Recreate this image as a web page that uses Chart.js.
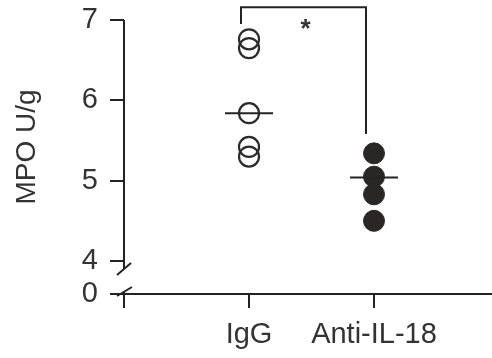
<!DOCTYPE html>
<html>
<head>
<meta charset="utf-8">
<script src="https://cdn.jsdelivr.net/npm/chart.js@4"></script>
<style>
  html, body { margin: 0; padding: 0; background: #fff; }
  #wrap { width: 492px; height: 358px; position: relative; }
</style>
</head>
<body>
<div id="wrap"><canvas id="c"></canvas></div>
<script>
// Groups and MPO activity (U/g) per animal
const groups = ['IgG', 'Anti-IL-18'];
const iggValues = [6.76, 6.65, 5.84, 5.42, 5.30];
const antiValues = [5.34, 5.05, 4.83, 4.50];
const medians = [5.84, 5.04];
const yTickValues = [0, 4, 5, 6, 7];

// Significance bracket between the two groups
const significance = '*';
const bracketTop = 7.16;
const bracketEnds = [6.95, 5.58];

// The y axis is broken between 0 and 4; 0 is drawn just below the break
const BREAK_POS = 3.589;
const toAxis = v => (v < 4 ? BREAK_POS : v);

const FONT = "'Liberation Sans', Arial, Helvetica, sans-serif";
const INK = '#232323';
const TEXT = '#333333';

const brokenAxisPlugin = {
  id: 'brokenAxis',
  afterDraw(chart) {
    const { ctx, chartArea } = chart;
    const ys = chart.scales.y;
    const xs = chart.scales.x;
    const ax = chartArea.left;
    const pTop = ys.getPixelForValue(7);
    const p4 = ys.getPixelForValue(4);
    const p0 = ys.getPixelForValue(toAxis(0));
    const upperCut = p4 + 8;
    const lowerCut = p0 - 3;

    ctx.save();
    ctx.strokeStyle = INK;
    ctx.lineWidth = 2;
    ctx.lineCap = 'butt';
    const line = (x1, y1, x2, y2) => {
      ctx.beginPath(); ctx.moveTo(x1, y1); ctx.lineTo(x2, y2); ctx.stroke();
    };
    // axis segments above and below the break
    line(ax, pTop, ax, upperCut);
    line(ax, lowerCut, ax, p0);
    // break marks
    line(ax - 7, upperCut + 6, ax + 7, upperCut - 6);
    line(ax - 7, lowerCut + 5, ax + 8, lowerCut - 4);

    // significance bracket
    const shift = -8;
    const xl = xs.getPixelForValue(1) + shift;
    const xr = xs.getPixelForValue(2) + shift;
    const yt = ys.getPixelForValue(bracketTop);
    ctx.beginPath();
    ctx.moveTo(xl, ys.getPixelForValue(bracketEnds[0]));
    ctx.lineTo(xl, yt);
    ctx.lineTo(xr, yt);
    ctx.lineTo(xr, ys.getPixelForValue(bracketEnds[1]));
    ctx.stroke();

    ctx.fillStyle = TEXT;
    ctx.font = 'bold 26px ' + FONT;
    ctx.textAlign = 'center';
    ctx.textBaseline = 'alphabetic';
    ctx.fillText(significance, (xl + xr) / 2 + 2, yt + 30);
    ctx.restore();
  }
};

const chart = new Chart(document.getElementById('c'), {
  type: 'scatter',
  data: {
    datasets: [
      {
        label: 'median',
        data: medians.map((v, i) => ({ x: i + 1, y: v })),
        pointStyle: 'line',
        pointRadius: 24,
        pointBorderWidth: 2,
        borderColor: INK,
        backgroundColor: INK
      },
      {
        label: groups[0],
        data: iggValues.map(v => ({ x: 1, y: v })),
        pointStyle: 'circle',
        pointRadius: 10,
        pointBorderWidth: 2.2,
        borderColor: '#2b2b2b',
        backgroundColor: 'rgba(255,255,255,0)'
      },
      {
        label: groups[1],
        data: antiValues.map(v => ({ x: 2, y: v })),
        pointStyle: 'circle',
        pointRadius: 10.5,
        pointBorderWidth: 1,
        borderColor: '#2a2626',
        backgroundColor: '#2a2626'
      }
    ]
  },
  options: {
    responsive: true,
    maintainAspectRatio: false,
    animation: false,
    events: [],
    layout: { padding: 0, autoPadding: false },
    plugins: { legend: { display: false }, tooltip: { enabled: false } },
    scales: {
      x: {
        type: 'linear',
        min: 0,
        max: 2.944,
        afterBuildTicks: s => { s.ticks = [0, 1, 2].map(v => ({ value: v })); },
        afterFit: s => { s.height = 64; s.paddingLeft = 0; s.paddingRight = 0; },
        ticks: {
          autoSkip: false,
          maxRotation: 0,
          padding: 10,
          color: TEXT,
          font: { family: FONT, size: 29 },
          callback: v => (v === 0 ? '' : groups[v - 1])
        },
        grid: { drawOnChartArea: false, drawTicks: true, tickLength: 14, color: INK, lineWidth: 2 },
        border: { display: true, color: INK, width: 2 }
      },
      y: {
        type: 'linear',
        min: BREAK_POS,
        max: 7.249,
        afterBuildTicks: s => { s.ticks = yTickValues.map(v => ({ value: toAxis(v) })); },
        afterFit: s => { s.width = 124; s.paddingTop = 0; s.paddingBottom = 0; },
        ticks: {
          padding: 12,
          color: TEXT,
          font: { family: FONT, size: 29 },
          callback: (v, i) => String(yTickValues[i])
        },
        grid: { drawOnChartArea: false, drawTicks: true, tickLength: 14, color: INK, lineWidth: 2 },
        border: { display: false },
        title: {
          display: true,
          text: 'MPO U/g',
          color: TEXT,
          font: { family: FONT, size: 28 },
          padding: { top: 10, bottom: 0 }
        }
      }
    }
  },
  plugins: [brokenAxisPlugin]
});
</script>
</body>
</html>
